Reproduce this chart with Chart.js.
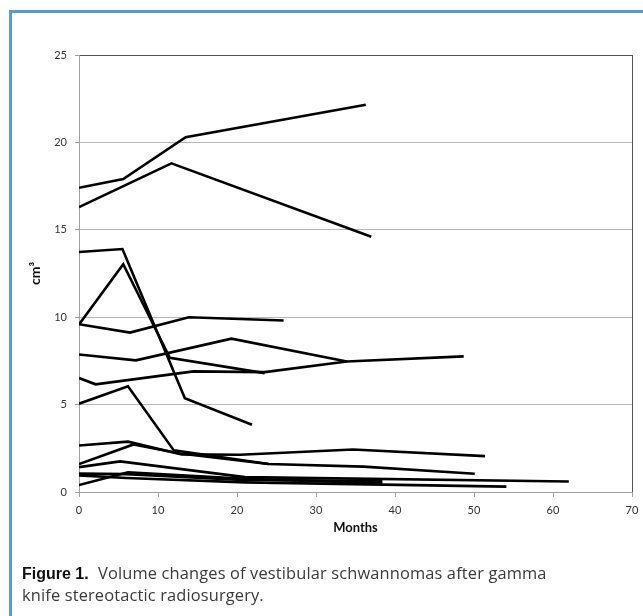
<!DOCTYPE html>
<html>
<head>
<meta charset="utf-8">
<script src="https://cdn.jsdelivr.net/npm/chart.js@4.4.1/dist/chart.umd.min.js"></script>
<style>
  html, body { margin: 0; padding: 0; background: #fff; }
  #wrap { position: relative; width: 643px; height: 616px; overflow: hidden; }
  #frame { position: absolute; left: 9px; top: 10px; right: -5px; bottom: -5px;
           border-top: 3px solid #5b9bd5; border-left: 3px solid #5b9bd5; pointer-events: none; }
  #grafico { position: absolute; left: 0; top: 0; }
  #legenda { position: absolute; left: 22px; top: 562px; width: 615px;
             font-family: "Open Sans", "Liberation Sans", sans-serif; font-size: 16.4px;
             letter-spacing: 0.15px; line-height: 21px; color: #3a3a3a; }
  #legenda b { font-family: "Liberation Sans Narrow", "Liberation Sans", sans-serif;
               font-size: 16px; letter-spacing: 0; font-weight: bold; color: #111; margin-right: 5px; }
</style>
</head>
<body>
<div id="wrap">
  <canvas id="grafico" width="643" height="545"></canvas>
  <div id="frame"></div>
  <div id="legenda"><b>Figure 1.</b> Volume changes of vestibular schwannomas after gamma<br>knife stereotactic radiosurgery.</div>
</div>
<script>
// Eixos
var mesesTicks = [0, 10, 20, 30, 40, 50, 60, 70];
var volumeTicks = [0, 5, 10, 15, 20, 25];

// Cada paciente: [mes, volume cm3]
var paciente1  = [[0, 17.4], [5.6, 17.9], [13.5, 20.3], [36.3, 22.15]];
var paciente2  = [[0, 16.3], [11.7, 18.8], [37, 14.6]];
var paciente3  = [[0, 13.73], [5.5, 13.9], [13.4, 5.37], [21.9, 3.85]];
var paciente4  = [[0, 9.58], [5.6, 13.03], [11.5, 7.68], [23.5, 6.8]];
var paciente5  = [[0, 9.6], [6.45, 9.12], [13.9, 10.0], [25.9, 9.81]];
var paciente6  = [[0, 7.87], [7.2, 7.53], [19.3, 8.77], [33.9, 7.47]];
var paciente7  = [[0, 6.52], [2.1, 6.16], [14.5, 6.9], [23.5, 6.86], [33.9, 7.47], [48.7, 7.76]];
var paciente8  = [[0, 5.05], [6.2, 6.05], [12, 2.38], [24, 1.6]];
var paciente9  = [[0, 2.66], [6.2, 2.88], [13, 2.15], [20.4, 2.13], [34.7, 2.43], [51.4, 2.05]];
var paciente10 = [[0, 1.6], [6.9, 2.72], [12.8, 2.2], [24, 1.6], [36, 1.45], [50.1, 1.04]];
var paciente11 = [[0, 1.42], [5.2, 1.75], [21, 0.85], [62, 0.6]];
var paciente12 = [[0, 1.05], [6, 1.02], [20, 0.7], [38.4, 0.62]];
var paciente13 = [[0, 0.95], [6, 0.8], [21, 0.55], [54.1, 0.31]];
var paciente14 = [[0, 0.4], [6.2, 1.13], [21, 0.75], [38.4, 0.5]];

var pacientes = [paciente1, paciente2, paciente3, paciente4, paciente5, paciente6, paciente7,
                 paciente8, paciente9, paciente10, paciente11, paciente12, paciente13, paciente14];

var fonteEixo = { family: 'Lato, "Liberation Sans", sans-serif', size: 11 };
var fonteTitulo = { family: 'Lato, "Liberation Sans", sans-serif', size: 13, weight: 'bold' };

var datasets = pacientes.map(function (p, i) {
  return {
    label: 'Paciente ' + (i + 1),
    data: p.map(function (v) { return { x: v[0], y: v[1] }; }),
    showLine: true,
    borderColor: '#000',
    borderWidth: 2.6,
    pointRadius: 0,
    tension: 0,
    fill: false
  };
});

new Chart(document.getElementById('grafico').getContext('2d'), {
  type: 'scatter',
  data: { datasets: datasets },
  options: {
    responsive: false,
    animation: false,
    events: [],
    layout: { padding: { top: 55, right: 11, left: 0, bottom: 0 } },
    plugins: { legend: { display: false }, tooltip: { enabled: false } },
    scales: {
      x: {
        type: 'linear',
        min: 0, max: 70,
        afterBuildTicks: function (s) { s.ticks = mesesTicks.map(function (v) { return { value: v }; }); },
        afterFit: function (s) { s.height = 53; s.paddingLeft = 0; s.paddingRight = 0; },
        ticks: { color: '#333', font: fonteEixo, padding: 7, maxRotation: 0 },
        grid: {
          color: function (c) { return c.tick && c.tick.value === 70 ? '#555' : 'rgba(0,0,0,0)'; },
          tickColor: '#a0a0a0',
          tickLength: 5,
          lineWidth: 1
        },
        border: { color: '#a0a0a0', width: 1 },
        title: {
          display: true, text: 'Months', color: '#111',
          font: fonteTitulo,
          padding: { top: 0, bottom: 9 }
        }
      },
      y: {
        min: 0, max: 25,
        afterBuildTicks: function (s) { s.ticks = volumeTicks.map(function (v) { return { value: v }; }); },
        afterFit: function (s) { s.width = 79; s.paddingTop = 0; s.paddingBottom = 0; },
        ticks: { color: '#333', font: fonteEixo, padding: 8 },
        grid: {
          color: function (c) { return c.tick && c.tick.value === 25 ? '#555' : '#b8b8b8'; },
          tickColor: '#a0a0a0',
          tickLength: 4,
          lineWidth: 1
        },
        border: { color: '#a0a0a0', width: 1 },
        title: {
          display: true, text: 'cm³', color: '#111',
          font: { family: 'Lato, "Liberation Sans", sans-serif', size: 14, weight: 'bold' },
          padding: { top: 27, bottom: 0 }
        }
      }
    }
  }
});
</script>
</body>
</html>
